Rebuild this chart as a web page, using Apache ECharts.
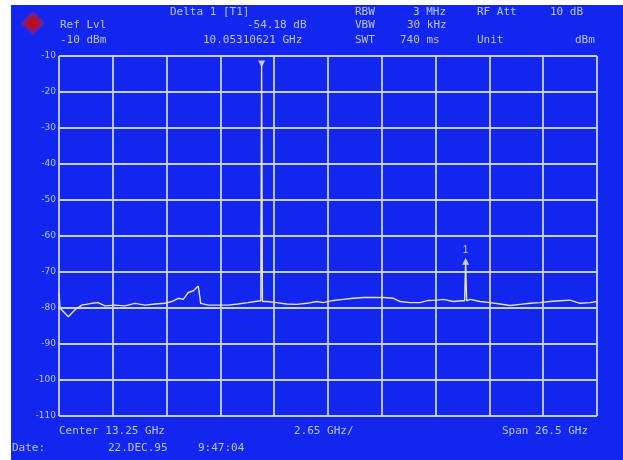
<!DOCTYPE html>
<html>
<head>
<meta charset="utf-8">
<script src="https://cdn.jsdelivr.net/npm/echarts@6/dist/echarts.min.js"></script>
<style>
html,body{margin:0;padding:0;background:#ffffff;}
#bg{position:absolute;left:11px;top:5px;width:612px;height:455px;background:#1226f0;}
#chart{position:absolute;left:0;top:0;width:623px;height:460px;}
</style>
</head>
<body>
<div id="bg"></div>
<div id="chart"></div>
<script>
// Frequency (GHz) / level (dBm) pairs
var traceFreq = [0.0,0.05,0.46,0.79,1.12,1.61,1.92,2.27,2.76,3.25,3.74,4.24,4.73,5.22,5.55,5.88,6.12,6.37,6.62,6.86,6.98,7.36,7.83,8.33,8.82,9.31,9.65,9.94,9.98,10.02,10.23,10.72,11.22,11.71,12.2,12.69,13.02,13.51,14.0,14.5,14.99,15.48,15.97,16.47,16.8,17.29,17.78,18.19,18.6,18.93,19.42,19.84,19.98,20.03,20.08,20.25,20.74,21.23,21.72,22.22,22.71,23.2,23.69,24.19,24.68,25.17,25.66,26.16,26.5];
var traceLevel = [-75.8,-80.0,-82.4,-80.5,-79.2,-78.7,-78.5,-79.4,-79.2,-79.4,-78.7,-79.2,-78.9,-78.7,-78.2,-77.3,-77.6,-75.7,-75.2,-73.9,-78.7,-79.2,-79.2,-79.2,-78.9,-78.5,-78.2,-78.0,-12.5,-78.2,-78.2,-78.5,-78.9,-79.0,-78.7,-78.2,-78.5,-77.9,-77.6,-77.3,-77.1,-77.1,-77.1,-77.3,-78.2,-78.5,-78.5,-77.9,-77.8,-77.6,-78.2,-78.0,-78.0,-67.0,-78.0,-77.6,-78.2,-78.5,-78.9,-79.3,-79.0,-78.7,-78.5,-78.2,-78.0,-77.8,-78.7,-78.5,-78.2];
var yTicks = [-10,-20,-30,-40,-50,-60,-70,-80,-90,-100,-110];
var markerRef = [9.98, -12.5];
var markerDelta = [20.03, -67.0];

var headerTexts = [
  ['Delta 1 [T1]',170,13],['RBW',355,13],['3 MHz',413,13],['RF Att',477,13],['10 dB',550,13],
  ['Ref Lvl',60,26],['-54.18 dB',247,26],['VBW',355,26],['30 kHz',407,26],
  ['-10 dBm',60,41],['10.05310621 GHz',203,41],['SWT',355,41],['740 ms',400,41],['Unit',477,41],['dBm',575,41],
  ['Center 13.25 GHz',59,432],['2.65 GHz/',294,432],['Span 26.5 GHz',502,432],
  ['Date:',12,449],['22.DEC.95',108,449],['9:47:04',198,449]
];

var data = traceFreq.map(function(f,i){return [f, traceLevel[i]];});
var txtColor = '#b8c4f8';
var graphics = headerTexts.map(function(t){
  return {type:'text', left:t[1], top:t[2]-6, style:{text:t[0], fill:txtColor, font:'11px "DejaVu Sans Mono"'}};
});
graphics.push({type:'polygon', shape:{points:[[33,11],[45,23],[33,35],[21,23]]}, style:{fill:'#7a1c8c'}});
graphics.push({type:'circle', shape:{cx:33,cy:23,r:6}, style:{fill:'#b8101c'}});

var chart = echarts.init(document.getElementById('chart'));
chart.setOption({
  backgroundColor:'transparent',
  animation:false,
  grid:{left:59,right:26,top:56,bottom:44},
  xAxis:{type:'value',min:0,max:26.5,interval:2.65,
    axisLine:{show:false},axisTick:{show:false},axisLabel:{show:false},
    splitLine:{show:true,lineStyle:{color:'#c4d2fa',width:1.8}}},
  yAxis:{type:'value',min:-110,max:-10,interval:10,
    axisLine:{show:false},axisTick:{show:false},
    axisLabel:{color:txtColor,fontSize:9,margin:3,fontFamily:'DejaVu Sans',
      formatter:function(v){return yTicks.indexOf(v)>=0?String(v):'';}},
    splitLine:{show:true,lineStyle:{color:'#c4d2fa',width:1.8}}},
  graphic:graphics,
  series:[
    {type:'line',data:data,symbol:'none',lineStyle:{color:'#e6e2a8',width:1.4}},
    {type:'scatter',data:[markerRef],symbol:'triangle',symbolRotate:180,symbolSize:7,symbolOffset:[0,-1],
      itemStyle:{color:'#f0f0e0'}},
    {type:'scatter',data:[markerDelta],symbol:'triangle',symbolSize:7,
      itemStyle:{color:'#f0f0e0'},
      label:{show:true,position:'top',formatter:'1',color:'#f0f0e0',fontSize:10,distance:2}}
  ]
});
</script>
</body>
</html>
